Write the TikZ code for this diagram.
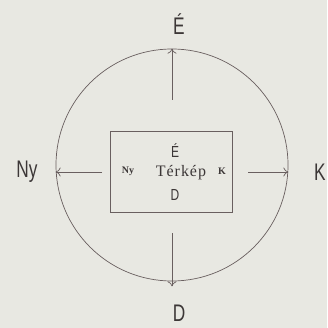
\documentclass[tikz,border=0pt]{standalone}
\usepackage{fontspec}
\usetikzlibrary{arrows.meta}
\setmainfont{Liberation Sans}
\newfontfamily\mapfont{Liberation Serif}
\definecolor{paper}{RGB}{232,232,226}
\definecolor{ink}{RGB}{105,95,95}
\definecolor{txt}{RGB}{60,55,55}
\begin{document}
\begin{tikzpicture}[x=1pt,y=-1pt,
  lbl/.style={text=txt,inner sep=0pt,font=\fontsize{24}{24}\selectfont,xscale=0.72},
  insans/.style={text=txt,inner sep=0pt,font=\fontsize{16}{16}\selectfont,xscale=0.75},
  inlbl/.style={text=txt,inner sep=0pt,font=\mapfont\fontsize{16}{16}\selectfont\addfontfeature{LetterSpace=6}},
  small/.style={text=txt,inner sep=0pt,font=\mapfont\bfseries\fontsize{10}{10}\selectfont},
  arr/.style={draw=ink,line width=0.7pt,-{To[length=5pt,width=9pt]}}]
\fill[paper] (0,0) rectangle (327,328);
\useasboundingbox (0,0) rectangle (327,328);
\node[draw=ink,line width=0.7pt,circle,minimum size=232pt,inner sep=0pt] (c) at (172,165) {};
\node[draw=ink,line width=0.9pt,minimum width=122pt,minimum height=81pt,inner sep=0pt] (map) at (171,171.5) {};
\node[insans] (ie) at (175,151) {É};
\node[inlbl] (it) at (181,173) {Térkép};
\node[small] (iny) at (128,171) {Ny};
\node[small] (ik) at (222,171) {K};
\node[insans] (id) at (175,195) {D};
\node[lbl] (e) at (179,24) {É};
\node[lbl] (d) at (179,313) {D};
\node[lbl] (ny) at (27,172) {Ny};
\node[lbl] (k) at (320,172) {K};
\coordinate (ns) at (172,100);
\coordinate (ss) at (172,233);
\coordinate (ws) at (102,172);
\coordinate (es) at (248,172);
\draw[arr] (ns) -- (c.north);
\draw[arr] (ss) -- ([yshift=-5pt]c.south);
\draw[arr] (ws) -- (ws -| c.west);
\draw[arr] (es) -- (es -| c.east);
\end{tikzpicture}
\end{document}
